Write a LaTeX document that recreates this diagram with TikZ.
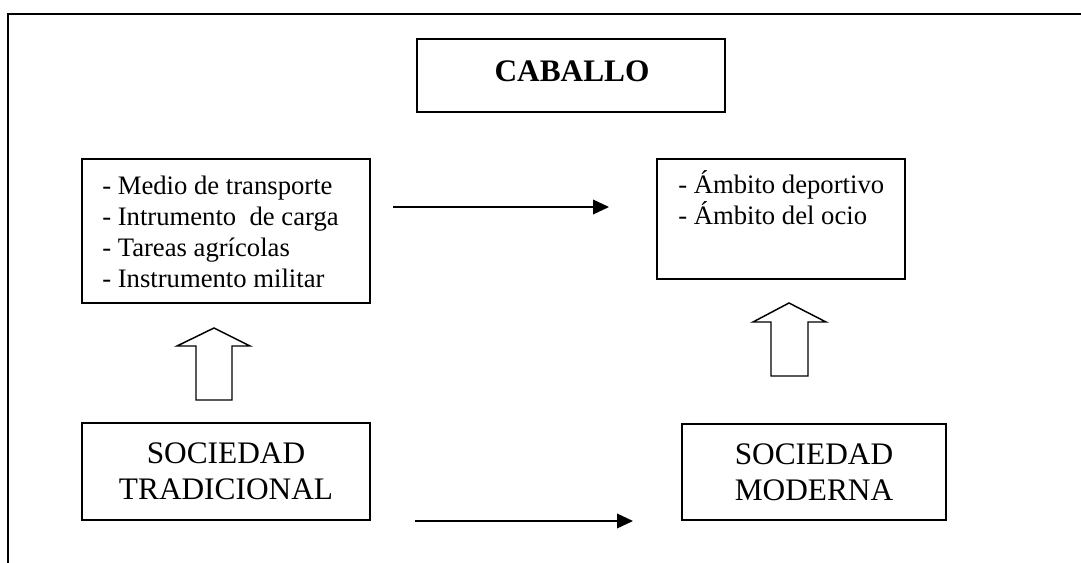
\documentclass[tikz,border=0pt]{standalone}
\usepackage{fontspec}
\setmainfont{Liberation Serif}
\usetikzlibrary{arrows.meta}
\begin{document}
\begin{tikzpicture}[x=0.75pt,y=-0.75pt,
  box/.style={draw,line width=1.1pt,inner sep=0pt},
  listitem/.style={anchor=base west,inner sep=0pt,font=\fontsize{20}{23}\selectfont},
  soc/.style={box,align=center,font=\fontsize{23.5}{27}\selectfont},
  conn/.style={line width=1.1pt,-{Triangle[length=12pt,width=11pt]}},
  blockarrow/.style={draw,line width=1.1pt,line join=miter}]
\useasboundingbox (0,0) rectangle (1081,563);
% frame
\draw[line width=1.5pt] (1081,14) -- (8,14) -- (8,563);
% title
\node[box,minimum width=231pt,minimum height=54.75pt] (cab) at (571,75.5) {};
\node[anchor=base,inner sep=0pt,font=\fontsize{23.5}{27}\selectfont\bfseries] (cabt) at (572,82) {CABALLO};
% list boxes
\node[box,minimum width=216pt,minimum height=108pt] (usosA) at (226,231) {};
\node[listitem] (l1) at (102,195) {- Medio de transporte};
\node[listitem] (l2) at (102,225.5) {- Intrumento\ \ de carga};
\node[listitem] (l3) at (102,256) {- Tareas agrícolas};
\node[listitem] (l4) at (102,287) {- Instrumento militar};
\node[box,minimum width=186pt,minimum height=90pt] (usosB) at (781,219) {};
\node[listitem] (r1) at (678,194) {- Ámbito deportivo};
\node[listitem] (r2) at (678,224) {- Ámbito del ocio};
% society boxes
\node[soc,minimum width=216pt,minimum height=72.75pt] (trad) at (226,471.5) {SOCIEDAD\\TRADICIONAL};
\node[soc,minimum width=198pt,minimum height=72pt] (mod) at (814,472) {SOCIEDAD\\MODERNA};
% horizontal arrows
\coordinate (a1s) at (393,207);
\coordinate (a1e) at (609,207);
\coordinate (a2s) at (415,521);
\coordinate (a2e) at (633,521);
\draw[conn] (a1s) -- (a1e);
\draw[conn] (a2s) -- (a2e);
% block up arrows
\draw[blockarrow] (214,328) -- (250,346) -- (232,346) -- (232,400) -- (196,400) -- (196,346) -- (177,346) -- cycle;
\draw[blockarrow] (789,303) -- (826,322) -- (808,322) -- (808,376) -- (771,376) -- (771,322) -- (753,322) -- cycle;
\end{tikzpicture}
\end{document}
